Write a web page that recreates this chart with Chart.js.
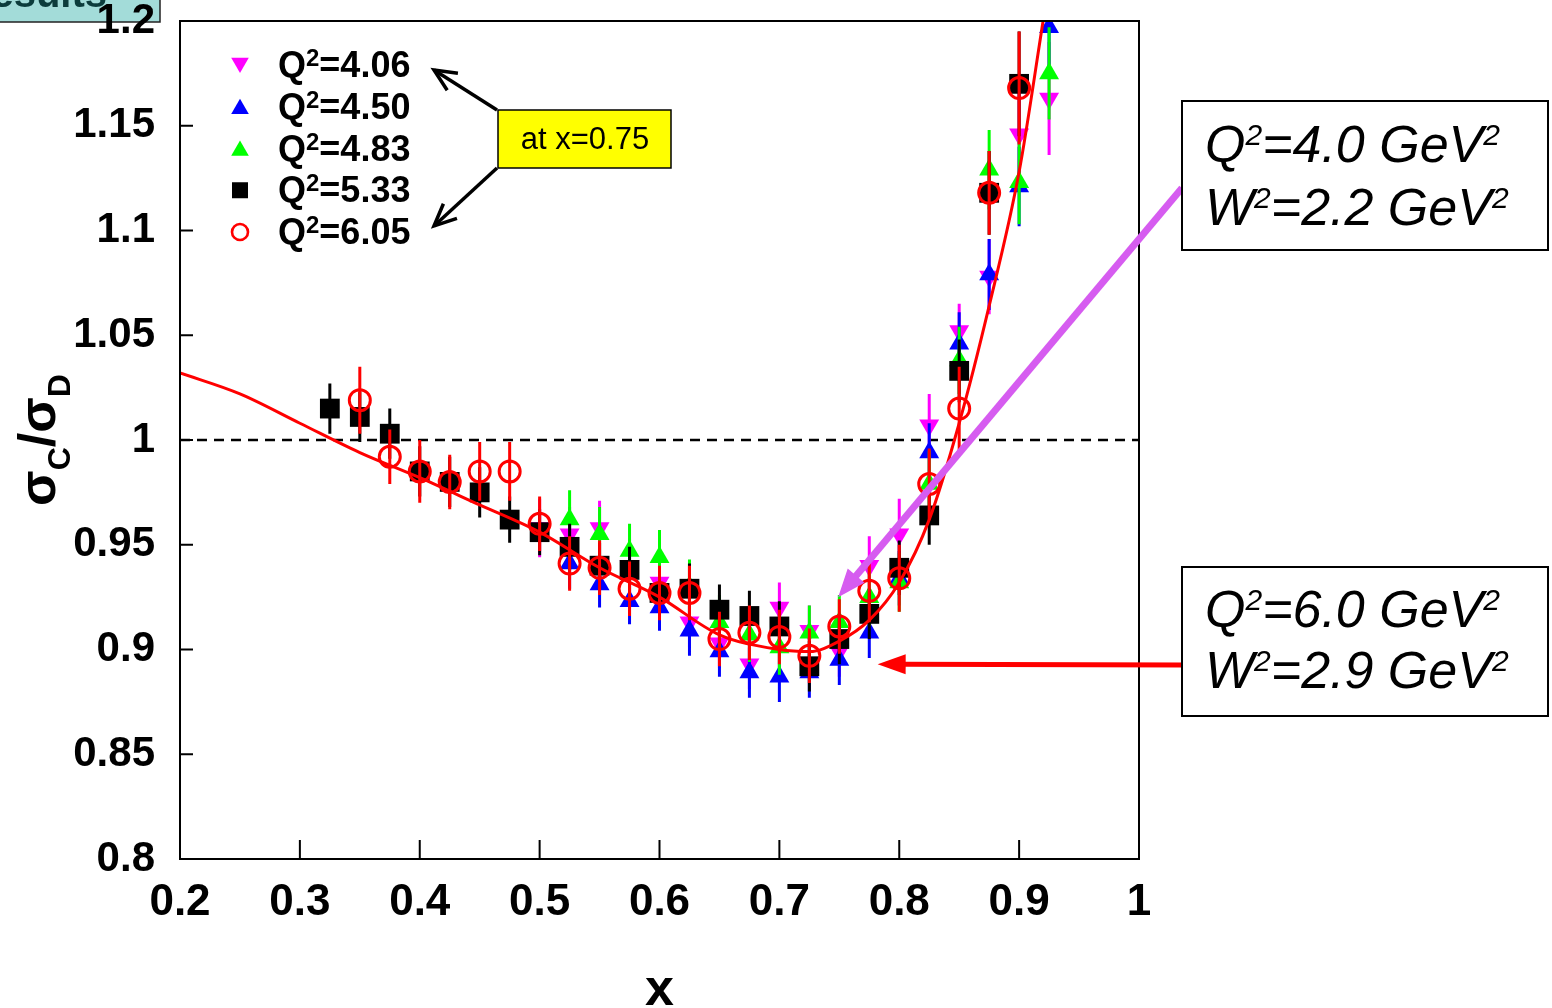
<!DOCTYPE html>
<html lang="en">
<head>
<meta charset="UTF-8">
<title>sigma_C / sigma_D versus x</title>
<script src="https://cdn.jsdelivr.net/npm/chart.js@4"></script>
<style>
  html, body { margin: 0; padding: 0; background: #fff; }
  #wrap { position: relative; width: 1552px; height: 1008px; }
</style>
</head>
<body>
<div id="wrap"><canvas id="ratio"></canvas></div>
<script>
// Q^2 settings, in the order they appear in the key
const seriesQ2 = ['4.06', '4.50', '4.83', '5.33', '6.05'];

// Q^2 = 4.06
const xMag = [0.5, 0.525, 0.55, 0.575, 0.6, 0.625, 0.65, 0.675, 0.7, 0.725, 0.75, 0.775, 0.8, 0.825, 0.85, 0.875, 0.9, 0.925];
const yMag = [0.958, 0.955, 0.958, 0.940, 0.932, 0.913, 0.903, 0.893, 0.920, 0.909, 0.899, 0.940, 0.955, 1.007, 1.052, 1.078, 1.146, 1.163];
const eMag = [0.014, 0.013, 0.013, 0.013, 0.012, 0.012, 0.012, 0.012, 0.012, 0.012, 0.012, 0.014, 0.017, 0.015, 0.013, 0.018, 0.025, 0.027];

// Q^2 = 4.50
const xBlue = [0.525, 0.55, 0.575, 0.6, 0.625, 0.65, 0.675, 0.7, 0.725, 0.75, 0.775, 0.8, 0.825, 0.85, 0.875, 0.9, 0.925];
const yBlue = [0.941, 0.931, 0.923, 0.920, 0.909, 0.899, 0.889, 0.887, 0.889, 0.895, 0.908, 0.934, 0.994, 1.046, 1.079, 1.121, 1.197];
const eBlue = [0.012, 0.011, 0.011, 0.011, 0.012, 0.012, 0.012, 0.012, 0.012, 0.012, 0.012, 0.013, 0.014, 0.015, 0.017, 0.019, 0.020];

// Q^2 = 4.83
const xGreen = [0.525, 0.55, 0.575, 0.6, 0.625, 0.65, 0.675, 0.7, 0.725, 0.75, 0.775, 0.8, 0.825, 0.85, 0.875, 0.9, 0.925];
const yGreen = [0.962, 0.955, 0.947, 0.944, 0.930, 0.913, 0.907, 0.901, 0.908, 0.913, 0.925, 0.932, 0.979, 1.038, 1.129, 1.123, 1.175];
const eGreen = [0.014, 0.013, 0.013, 0.013, 0.013, 0.013, 0.013, 0.013, 0.013, 0.013, 0.014, 0.014, 0.016, 0.016, 0.019, 0.020, 0.022];

// Q^2 = 5.33
const xBlack = [0.325, 0.35, 0.375, 0.4, 0.425, 0.45, 0.475, 0.5, 0.525, 0.55, 0.575, 0.6, 0.625, 0.65, 0.675, 0.7, 0.725, 0.75, 0.775, 0.8, 0.825, 0.85, 0.875, 0.9];
const yBlack = [1.015, 1.011, 1.003, 0.985, 0.980, 0.975, 0.962, 0.956, 0.949, 0.940, 0.938, 0.927, 0.929, 0.919, 0.916, 0.911, 0.892, 0.905, 0.917, 0.939, 0.964, 1.033, 1.118, 1.170];
const eBlack = [0.012, 0.012, 0.012, 0.012, 0.012, 0.012, 0.011, 0.011, 0.011, 0.011, 0.011, 0.011, 0.012, 0.012, 0.012, 0.012, 0.012, 0.012, 0.012, 0.013, 0.014, 0.015, 0.020, 0.025];

// Q^2 = 6.05
const xRed = [0.35, 0.375, 0.4, 0.425, 0.45, 0.475, 0.5, 0.525, 0.55, 0.575, 0.6, 0.625, 0.65, 0.675, 0.7, 0.725, 0.75, 0.775, 0.8, 0.825, 0.85, 0.875, 0.9];
const yRed = [1.019, 0.992, 0.985, 0.980, 0.985, 0.985, 0.960, 0.941, 0.939, 0.929, 0.927, 0.927, 0.905, 0.908, 0.906, 0.897, 0.911, 0.928, 0.934, 0.979, 1.015, 1.118, 1.168];
const eRed = [0.016, 0.013, 0.015, 0.013, 0.014, 0.014, 0.013, 0.013, 0.013, 0.013, 0.013, 0.013, 0.013, 0.013, 0.013, 0.013, 0.013, 0.015, 0.016, 0.017, 0.020, 0.020, 0.027];

// model curve
const modelX = [0.2, 0.25, 0.3, 0.35, 0.4, 0.45, 0.5, 0.55, 0.6, 0.65, 0.7, 0.725, 0.75, 0.775, 0.8, 0.825, 0.85, 0.875, 0.9, 0.92];
const modelY = [1.032, 1.022, 1.008, 0.994, 0.982, 0.969, 0.956, 0.939, 0.925, 0.907, 0.900, 0.899, 0.904, 0.914, 0.932, 0.962, 1.008, 1.064, 1.128, 1.200];

// unity reference line
const unityX = [0.2, 1.0];
const unityY = [1, 1];

const FONT = '"Liberation Sans", Arial, Helvetica, sans-serif';
const MAGENTA = '#ff00ff', BLUE = '#0000ff', GREEN = '#00ff00', RED = '#ff0000';

const pts = (xs, ys) => xs.map((x, i) => ({ x: x, y: ys[i] }));
const fmt = v => String(Number(v.toFixed(2)));

// text made of runs with their own font and vertical shift (for super/subscripts)
function drawRuns(ctx, runs, x, y) {
  let cx = x;
  for (const [t, font, dy] of runs) {
    ctx.font = font;
    ctx.fillText(t, cx, y + (dy || 0));
    cx += ctx.measureText(t).width;
  }
  return cx;
}
function runsWidth(ctx, runs) {
  let w = 0;
  for (const [t, font] of runs) { ctx.font = font; w += ctx.measureText(t).width; }
  return w;
}

function arrow(ctx, x1, y1, x2, y2, color, width, headLen, headHalf, filled) {
  const a = Math.atan2(y2 - y1, x2 - x1);
  const bx = x2 - Math.cos(a) * headLen, by = y2 - Math.sin(a) * headLen;
  const nx = -Math.sin(a) * headHalf, ny = Math.cos(a) * headHalf;
  ctx.save();
  ctx.strokeStyle = color; ctx.fillStyle = color; ctx.lineWidth = width;
  ctx.lineCap = 'butt';
  ctx.beginPath();
  ctx.moveTo(x1, y1);
  ctx.lineTo(filled ? bx + Math.cos(a) * 2 : x2, filled ? by + Math.sin(a) * 2 : y2);
  ctx.stroke();
  ctx.beginPath();
  if (filled) {
    ctx.moveTo(x2, y2); ctx.lineTo(bx + nx, by + ny); ctx.lineTo(bx - nx, by - ny);
    ctx.closePath(); ctx.fill();
  } else {
    ctx.lineJoin = 'miter';
    ctx.moveTo(bx + nx, by + ny); ctx.lineTo(x2, y2); ctx.lineTo(bx - nx, by - ny);
    ctx.stroke();
  }
  ctx.restore();
}

function marker(ctx, kind, x, y, s) {
  ctx.save();
  ctx.beginPath();
  if (kind === 'down') {
    ctx.fillStyle = MAGENTA;
    ctx.moveTo(x - s * 0.55, y - s * 0.45); ctx.lineTo(x + s * 0.55, y - s * 0.45); ctx.lineTo(x, y + s * 0.5);
    ctx.closePath(); ctx.fill();
  } else if (kind === 'upB' || kind === 'upG') {
    ctx.fillStyle = kind === 'upB' ? BLUE : GREEN;
    ctx.moveTo(x - s * 0.55, y + s * 0.45); ctx.lineTo(x + s * 0.55, y + s * 0.45); ctx.lineTo(x, y - s * 0.5);
    ctx.closePath(); ctx.fill();
  } else if (kind === 'square') {
    ctx.fillStyle = '#000';
    ctx.fillRect(x - s / 2, y - s / 2, s, s);
  } else {
    ctx.strokeStyle = RED; ctx.lineWidth = 2.6;
    ctx.arc(x, y, s / 2, 0, Math.PI * 2); ctx.stroke();
  }
  ctx.restore();
}

// error bars go under each dataset's markers
const errorBars = {
  id: 'errorBars',
  beforeDatasetDraw(chart, args) {
    const ds = chart.data.datasets[args.index];
    if (!ds.errors) return;
    const ys = chart.scales.y, area = chart.chartArea, ctx = chart.ctx;
    ctx.save();
    ctx.beginPath();
    ctx.rect(area.left, area.top, area.right - area.left, area.bottom - area.top);
    ctx.clip();
    ctx.strokeStyle = ds.errColor;
    ctx.lineWidth = 3;
    ctx.beginPath();
    args.meta.data.forEach((el, i) => {
      const v = ds.data[i].y, e = ds.errors[i];
      ctx.moveTo(el.x, ys.getPixelForValue(v + e));
      ctx.lineTo(el.x, ys.getPixelForValue(v - e));
    });
    ctx.stroke();
    ctx.restore();
  }
};

const decorations = {
  id: 'decorations',
  beforeDraw(chart) {
    const ctx = chart.ctx;
    ctx.save();
    ctx.fillStyle = '#fff';
    ctx.fillRect(0, 0, chart.width, chart.height);
    // slide heading tab, cut by the top edge
    ctx.fillStyle = '#a3dcd9';
    ctx.strokeStyle = '#222';
    ctx.lineWidth = 1.5;
    ctx.fillRect(-2, -2, 162, 24);
    ctx.strokeRect(-2, -2, 162, 24);
    ctx.fillStyle = '#0c3c3c';
    ctx.font = 'bold 40px ' + FONT;
    ctx.textAlign = 'right';
    ctx.textBaseline = 'alphabetic';
    ctx.fillText('Results', 107, 7);
    ctx.restore();
  },
  afterDraw(chart) {
    const ctx = chart.ctx, a = chart.chartArea;
    const xs = chart.scales.x, ys = chart.scales.y;
    ctx.save();

    // frame and inward ticks
    ctx.strokeStyle = '#000';
    ctx.lineWidth = 2;
    ctx.strokeRect(a.left, a.top, a.right - a.left, a.bottom - a.top);
    ctx.beginPath();
    xs.ticks.forEach(t => {
      const px = xs.getPixelForValue(t.value);
      ctx.moveTo(px, a.bottom); ctx.lineTo(px, a.bottom - 19);
    });
    ys.ticks.forEach(t => {
      const py = ys.getPixelForValue(t.value);
      ctx.moveTo(a.left, py); ctx.lineTo(a.left + 13, py);
    });
    ctx.stroke();

    // key
    const kinds = ['down', 'upB', 'upG', 'square', 'circle'];
    const bold = 'bold 36px ' + FONT, boldSup = 'bold 24px ' + FONT;
    ctx.fillStyle = '#000';
    ctx.textAlign = 'left';
    ctx.textBaseline = 'alphabetic';
    seriesQ2.forEach((q, i) => {
      const cy = 65 + i * 41.75;
      marker(ctx, kinds[i], 240, cy, 16);
      ctx.fillStyle = '#000';
      drawRuns(ctx, [['Q', bold, 0], ['2', boldSup, -11], ['=' + q, bold, 0]], 278, cy + 12);
    });

    // "at x=0.75" note with its two arrows
    arrow(ctx, 497, 110, 434, 70, '#000', 3.5, 22, 10, false);
    arrow(ctx, 497, 168, 434, 226, '#000', 3.5, 22, 10, false);
    ctx.fillStyle = '#ffff00';
    ctx.fillRect(498, 110, 173, 58);
    ctx.strokeStyle = '#000';
    ctx.lineWidth = 1.5;
    ctx.strokeRect(498, 110, 173, 58);
    ctx.fillStyle = '#000';
    ctx.font = '31px ' + FONT;
    ctx.textAlign = 'center';
    ctx.textBaseline = 'middle';
    ctx.fillText('at x=0.75', 585, 140);

    // kinematics boxes and their pointers
    const magTip = { x: xs.getPixelForValue(0.749), y: ys.getPixelForValue(0.925) };
    const redTip = { x: xs.getPixelForValue(0.782), y: ys.getPixelForValue(0.893) };
    arrow(ctx, 1182, 188, magTip.x, magTip.y, 'rgb(214,92,240)', 7, 28, 11, true);
    arrow(ctx, 1182, 665, redTip.x, redTip.y, RED, 5, 28, 10, true);

    const it = 'italic 52px ' + FONT, itSup = 'italic 30px ' + FONT;
    const boxes = [
      { top: 101, lines: [['Q', '=4.0 GeV'], ['W', '=2.2 GeV']], base: [162, 225] },
      { top: 567, lines: [['Q', '=6.0 GeV'], ['W', '=2.9 GeV']], base: [627, 688] }
    ];
    boxes.forEach(b => {
      ctx.fillStyle = '#fff';
      ctx.fillRect(1182, b.top, 366, 149);
      ctx.strokeStyle = '#000';
      ctx.lineWidth = 2;
      ctx.strokeRect(1182, b.top, 366, 149);
      ctx.fillStyle = '#000';
      ctx.textAlign = 'left';
      ctx.textBaseline = 'alphabetic';
      b.lines.forEach((l, k) => {
        drawRuns(ctx, [[l[0], it, 0], ['2', itSup, -17], [l[1], it, 0], ['2', itSup, -17]], 1205, b.base[k]);
      });
    });

    // axis titles
    ctx.fillStyle = '#000';
    ctx.textAlign = 'center';
    ctx.textBaseline = 'alphabetic';
    ctx.font = 'bold 52px ' + FONT;
    ctx.fillText('x', (a.left + a.right) / 2, 1005);

    const sig = 'bold 52px ' + FONT, sub = 'bold 32px ' + FONT;
    const title = [['σ', sig, 0], ['C', sub, 15], ['/', sig, 0], ['σ', sig, 0], ['D', sub, 15]];
    ctx.translate(55, (a.top + a.bottom) / 2);
    ctx.rotate(-Math.PI / 2);
    ctx.textAlign = 'left';
    drawRuns(ctx, title, -runsWidth(ctx, title) / 2, 0);
    ctx.restore();
  }
};

new Chart(document.getElementById('ratio'), {
  type: 'scatter',
  data: {
    datasets: [
      {
        type: 'line', label: 'model', data: pts(modelX, modelY), order: 0,
        borderColor: RED, borderWidth: 3, pointRadius: 0, fill: false,
        cubicInterpolationMode: 'monotone'
      },
      {
        label: 'Q2=' + seriesQ2[4], data: pts(xRed, yRed), errors: eRed, errColor: RED, order: 1,
        pointStyle: 'circle', pointRadius: 10.5, pointBorderWidth: 3,
        pointBorderColor: RED, pointBackgroundColor: 'rgba(0,0,0,0)'
      },
      {
        label: 'Q2=' + seriesQ2[3], data: pts(xBlack, yBlack), errors: eBlack, errColor: '#000', order: 2,
        pointStyle: 'rect', pointRadius: 14, pointBorderWidth: 0,
        pointBackgroundColor: '#000'
      },
      {
        label: 'Q2=' + seriesQ2[2], data: pts(xGreen, yGreen), errors: eGreen, errColor: GREEN, order: 3,
        pointStyle: 'triangle', pointRadius: 11.5, pointBorderWidth: 0,
        pointBackgroundColor: GREEN
      },
      {
        label: 'Q2=' + seriesQ2[1], data: pts(xBlue, yBlue), errors: eBlue, errColor: BLUE, order: 4,
        pointStyle: 'triangle', pointRadius: 11.5, pointBorderWidth: 0,
        pointBackgroundColor: BLUE
      },
      {
        label: 'Q2=' + seriesQ2[0], data: pts(xMag, yMag), errors: eMag, errColor: MAGENTA, order: 5,
        pointStyle: 'triangle', pointRotation: 180, pointRadius: 11.5, pointBorderWidth: 0,
        pointBackgroundColor: MAGENTA
      },
      {
        type: 'line', label: 'unity', data: pts(unityX, unityY), order: 6,
        borderColor: '#000', borderWidth: 2.5, borderDash: [10, 7], pointRadius: 0, fill: false
      }
    ]
  },
  options: {
    responsive: true,
    maintainAspectRatio: false,
    animation: false,
    events: [],
    layout: { padding: { top: 21, right: 413, left: 0, bottom: 0 } },
    plugins: { legend: { display: false }, tooltip: { enabled: false } },
    scales: {
      x: {
        type: 'linear', min: 0.2, max: 1.0,
        grid: { display: false, drawTicks: false },
        border: { display: false },
        ticks: { stepSize: 0.1, color: '#000', font: { family: FONT, size: 44, weight: 'bold' }, padding: 17, maxRotation: 0, callback: v => fmt(v) },
        afterFit(s) { s.height = 149; s.paddingLeft = 0; s.paddingRight = 0; }
      },
      y: {
        type: 'linear', min: 0.8, max: 1.2,
        grid: { display: false, drawTicks: false },
        border: { display: false },
        ticks: { stepSize: 0.05, color: '#000', font: { family: FONT, size: 42, weight: 'bold', lineHeight: 0.5 }, padding: 25, callback: v => fmt(v) },
        afterFit(s) { s.width = 180; s.paddingTop = 0; s.paddingBottom = 0; }
      }
    }
  },
  plugins: [errorBars, decorations]
});
</script>
</body>
</html>
